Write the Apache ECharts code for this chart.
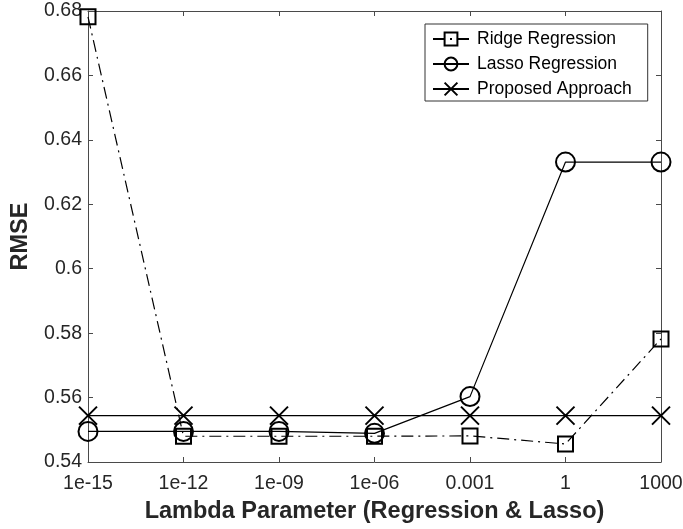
<!DOCTYPE html>
<html>
<head>
<meta charset="utf-8">
<script src="https://cdn.jsdelivr.net/npm/echarts@6/dist/echarts.min.js"></script>
<style>html,body{margin:0;padding:0;background:#fff;}#c{width:683px;height:529px;}</style>
</head>
<body>
<div id="c"></div>
<script>
const categories = ['1e-15', '1e-12', '1e-09', '1e-06', '0.001', '1', '1000'];
const ridge = [0.6782, 0.5480, 0.5480, 0.5480, 0.5481, 0.5456, 0.5782];
const lasso = [0.5495, 0.5495, 0.5495, 0.5489, 0.5603, 0.6331, 0.6331];
const proposed = [0.5544, 0.5544, 0.5544, 0.5544, 0.5544, 0.5544, 0.5544];
const yTicks = { min: 0.54, max: 0.68, interval: 0.02 };
const seriesNames = ['Ridge Regression', 'Lasso Regression', 'Proposed Approach'];
const xTitle = 'Lambda Parameter (Regression & Lasso)';
const yTitle = 'RMSE';

const FONT = 'Liberation Sans, Arial, Helvetica, sans-serif';
const AX = '#4a4a4a';
const chart = echarts.init(document.getElementById('c'), null, { renderer: 'canvas' });

const markerStyle = { color: 'rgba(0,0,0,0)', borderColor: '#000', borderWidth: 2 };

chart.setOption({
  animation: false,
  backgroundColor: '#fff',
  textStyle: { fontFamily: FONT },
  grid: { left: 88, right: 22, top: 11, bottom: 67, containLabel: false, outerBoundsMode: 'none' },
  legend: {
    data: seriesNames,
    orient: 'vertical',
    left: 425,
    top: 24,
    padding: [6, 16, 3, 7],
    itemWidth: 36,
    itemHeight: 16,
    itemGap: 7,
    borderColor: '#333',
    borderWidth: 1,
    backgroundColor: '#fff',
    textStyle: { fontSize: 17.5, color: '#000', fontFamily: FONT, padding: [0, 0, 0, 3] },
    selectedMode: false
  },
  xAxis: [
    {
      type: 'category', data: categories, boundaryGap: false, position: 'bottom',
      name: xTitle, nameLocation: 'middle', nameGap: 38,
      nameTextStyle: { fontSize: 23.5, fontWeight: 'bold', color: '#262626', fontFamily: FONT },
      axisLine: { show: true, lineStyle: { color: AX, width: 1 } },
      axisTick: { show: true, inside: true, length: 5, alignWithLabel: true, lineStyle: { color: AX } },
      axisLabel: { fontSize: 19.5, color: '#262626', margin: 12, fontFamily: FONT },
      splitLine: { show: false }
    },
    {
      type: 'category', data: categories, boundaryGap: false, position: 'top',
      axisLine: { show: true, lineStyle: { color: AX, width: 1 } },
      axisTick: { show: true, inside: true, length: 5, lineStyle: { color: AX } },
      axisLabel: { show: false },
      splitLine: { show: false }
    }
  ],
  yAxis: [
    {
      type: 'value', min: yTicks.min, max: yTicks.max, interval: yTicks.interval, position: 'left',
      name: yTitle, nameLocation: 'middle', nameGap: 55, nameRotate: 90,
      nameTextStyle: { fontSize: 23.5, fontWeight: 'bold', color: '#262626', fontFamily: FONT },
      axisLine: { show: true, lineStyle: { color: AX, width: 1 } },
      axisTick: { show: true, inside: true, length: 5, lineStyle: { color: AX } },
      axisLabel: { fontSize: 19.5, color: '#262626', margin: 6, fontFamily: FONT },
      splitLine: { show: false }
    },
    {
      type: 'value', min: yTicks.min, max: yTicks.max, interval: yTicks.interval, position: 'right',
      axisLine: { show: true, lineStyle: { color: AX, width: 1 } },
      axisTick: { show: true, inside: true, length: 5, lineStyle: { color: AX } },
      axisLabel: { show: false },
      splitLine: { show: false }
    }
  ],
  series: [
    {
      name: seriesNames[0], type: 'line', data: ridge, xAxisIndex: 0, yAxisIndex: 0,
      symbol: 'rect', symbolSize: 15, showAllSymbol: true,
      lineStyle: { color: '#000', width: 1.2, type: [12, 5, 2, 5] },
      itemStyle: markerStyle,
      emphasis: { disabled: true }, z: 2
    },
    {
      name: seriesNames[1], type: 'line', data: lasso, xAxisIndex: 0, yAxisIndex: 0,
      symbol: 'circle', symbolSize: 19, showAllSymbol: true,
      lineStyle: { color: '#000', width: 1.2, type: 'solid' },
      itemStyle: markerStyle,
      emphasis: { disabled: true }, z: 3
    },
    {
      name: seriesNames[2], type: 'line', data: proposed, xAxisIndex: 0, yAxisIndex: 0,
      symbol: 'path://M0,0L20,20M20,0L0,20', symbolSize: 18, showAllSymbol: true,
      lineStyle: { color: '#000', width: 1.2, type: 'solid' },
      itemStyle: markerStyle,
      emphasis: { disabled: true }, z: 4
    }
  ]
});
</script>
</body>
</html>
